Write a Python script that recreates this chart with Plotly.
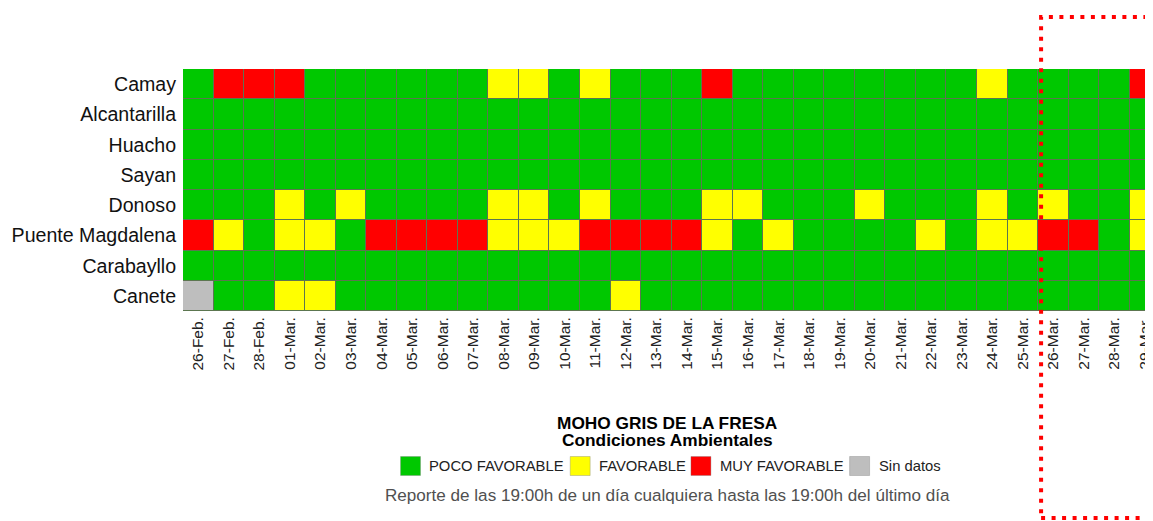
import plotly.graph_objects as go

# ---------------- data ----------------
fechas = ["26-Feb.", "27-Feb.", "28-Feb.", "01-Mar.", "02-Mar.", "03-Mar.", "04-Mar.", "05-Mar.",
          "06-Mar.", "07-Mar.", "08-Mar.", "09-Mar.", "10-Mar.", "11-Mar.", "12-Mar.", "13-Mar.",
          "14-Mar.", "15-Mar.", "16-Mar.", "17-Mar.", "18-Mar.", "19-Mar.", "20-Mar.", "21-Mar.",
          "22-Mar.", "23-Mar.", "24-Mar.", "25-Mar.", "26-Mar.", "27-Mar.", "28-Mar.", "29-Mar."]

estaciones = ["Camay", "Alcantarilla", "Huacho", "Sayan", "Donoso",
              "Puente Magdalena", "Carabayllo", "Canete"]

# 0 = Sin datos, 1 = POCO FAVORABLE, 2 = FAVORABLE, 3 = MUY FAVORABLE
camay        = [1, 3, 3, 3, 1, 1, 1, 1, 1, 1, 2, 2, 1, 2, 1, 1, 1, 3, 1, 1, 1, 1, 1, 1, 1, 1, 2, 1, 1, 1, 1, 3]
alcantarilla = [1, 1, 1, 1, 1, 1, 1, 1, 1, 1, 1, 1, 1, 1, 1, 1, 1, 1, 1, 1, 1, 1, 1, 1, 1, 1, 1, 1, 1, 1, 1, 1]
huacho       = [1, 1, 1, 1, 1, 1, 1, 1, 1, 1, 1, 1, 1, 1, 1, 1, 1, 1, 1, 1, 1, 1, 1, 1, 1, 1, 1, 1, 1, 1, 1, 1]
sayan        = [1, 1, 1, 1, 1, 1, 1, 1, 1, 1, 1, 1, 1, 1, 1, 1, 1, 1, 1, 1, 1, 1, 1, 1, 1, 1, 1, 1, 1, 1, 1, 1]
donoso       = [1, 1, 1, 2, 1, 2, 1, 1, 1, 1, 2, 2, 1, 2, 1, 1, 1, 2, 2, 1, 1, 1, 2, 1, 1, 1, 2, 1, 2, 1, 1, 2]
puente       = [3, 2, 1, 2, 2, 1, 3, 3, 3, 3, 2, 2, 2, 3, 3, 3, 3, 2, 1, 2, 1, 1, 1, 1, 2, 1, 2, 2, 3, 3, 1, 2]
carabayllo   = [1, 1, 1, 1, 1, 1, 1, 1, 1, 1, 1, 1, 1, 1, 1, 1, 1, 1, 1, 1, 1, 1, 1, 1, 1, 1, 1, 1, 1, 1, 1, 1]
canete       = [0, 1, 1, 2, 2, 1, 1, 1, 1, 1, 1, 1, 1, 1, 2, 1, 1, 1, 1, 1, 1, 1, 1, 1, 1, 1, 1, 1, 1, 1, 1, 1]

categorias = ["POCO FAVORABLE", "FAVORABLE", "MUY FAVORABLE", "Sin datos"]
colores_cat = ["#00C800", "#FFFF00", "#FF0000", "#BEBEBE"]

titulo1 = "MOHO GRIS DE LA FRESA"
titulo2 = "Condiciones Ambientales"
nota = "Reporte de las 19:00h de un día cualquiera hasta las 19:00h del último día"

# ---------------- layout geometry (page pixels) ----------------
OFF = 8                      # default page body margin
W, H = 1153 - OFF, 521 - OFF
PLOT_L, PLOT_T, PLOT_B = 183, 69, 311   # page pixels of plot area
L, R, T = PLOT_L - OFF, 0, PLOT_T - OFF
B = H - (PLOT_B - OFF)
PW, PH = W - L - R, H - T - B
CELL = 30.6


def xp(px):
    return (px - PLOT_L) / PW


def yp(py):
    return (PLOT_B - py) / PH


z = [camay, alcantarilla, huacho, sayan, donoso, puente, carabayllo, canete]

GRAY, GREEN, YELLOW, RED = colores_cat[3], colores_cat[0], colores_cat[1], colores_cat[2]
colorscale = [[0.0, GRAY], [0.25, GRAY], [0.25, GREEN], [0.5, GREEN],
              [0.5, YELLOW], [0.75, YELLOW], [0.75, RED], [1.0, RED]]

FONT = "Liberation Sans, Arial, sans-serif"

fig = go.Figure()
fig.add_trace(go.Heatmap(
    z=z, x=fechas, y=estaciones,
    zmin=-0.5, zmax=3.5, colorscale=colorscale, showscale=False,
    xgap=1, ygap=1, hoverinfo="skip",
))

fig.update_layout(
    width=W, height=H,
    margin=dict(l=L, r=R, t=T, b=B, pad=0),
    paper_bgcolor="white",
    plot_bgcolor="#5c7650",
    font=dict(family=FONT),
    showlegend=False,
    xaxis=dict(
        type="category",
        range=[-0.5, -0.5 + PW / CELL],
        tickangle=-90,
        tickfont=dict(size=15.5, color="#222222", family=FONT),
        ticks="", ticklabelstandoff=2,
        showgrid=False, zeroline=False, showline=False, fixedrange=True,
    ),
    yaxis=dict(
        type="category",
        autorange="reversed",
        tickfont=dict(size=19.6, color="#111111", family=FONT),
        ticks="outside", ticklen=2, tickcolor="rgba(0,0,0,0)",
        showgrid=False, zeroline=False, showline=False, fixedrange=True,
    ),
)

# titles
fig.add_annotation(text="<b>%s</b>" % titulo1, xref="paper", yref="paper",
                   x=0.5, y=yp(422.5), xanchor="center", yanchor="middle",
                   showarrow=False, font=dict(size=17.3, color="#000000", family=FONT))
fig.add_annotation(text="<b>%s</b>" % titulo2, xref="paper", yref="paper",
                   x=0.5, y=yp(439.5), xanchor="center", yanchor="middle",
                   showarrow=False, font=dict(size=17.3, color="#000000", family=FONT))

# manual legend
sq_left = [401, 571, 692, 851]
for name, col, x0 in zip(categorias, colores_cat, sq_left):
    fig.add_shape(type="rect", xref="paper", yref="paper",
                  x0=xp(x0), x1=xp(x0 + 20), y0=yp(475.5), y1=yp(456.5),
                  fillcolor=col, line=dict(width=1, color="rgba(120,120,120,0.35)"))
    fig.add_annotation(text=name, xref="paper", yref="paper",
                       x=xp(x0 + 27), y=yp(466), xanchor="left", yanchor="middle",
                       showarrow=False, font=dict(size=14.8, color="#222222", family=FONT))

fig.add_annotation(text=nota, xref="paper", yref="paper",
                   x=0.5, y=yp(495), xanchor="center", yanchor="middle",
                   showarrow=False, font=dict(size=17.1, color="#505050", family=FONT))

# red dotted forecast frame
fig.add_shape(type="rect", xref="x", yref="paper",
              x0=27.6, x1=33, y0=yp(518), y1=yp(17),
              line=dict(color="#FF0000", width=4, dash="4px,6.5px"),
              fillcolor="rgba(0,0,0,0)", layer="above")

fig.write_html("out.html")
